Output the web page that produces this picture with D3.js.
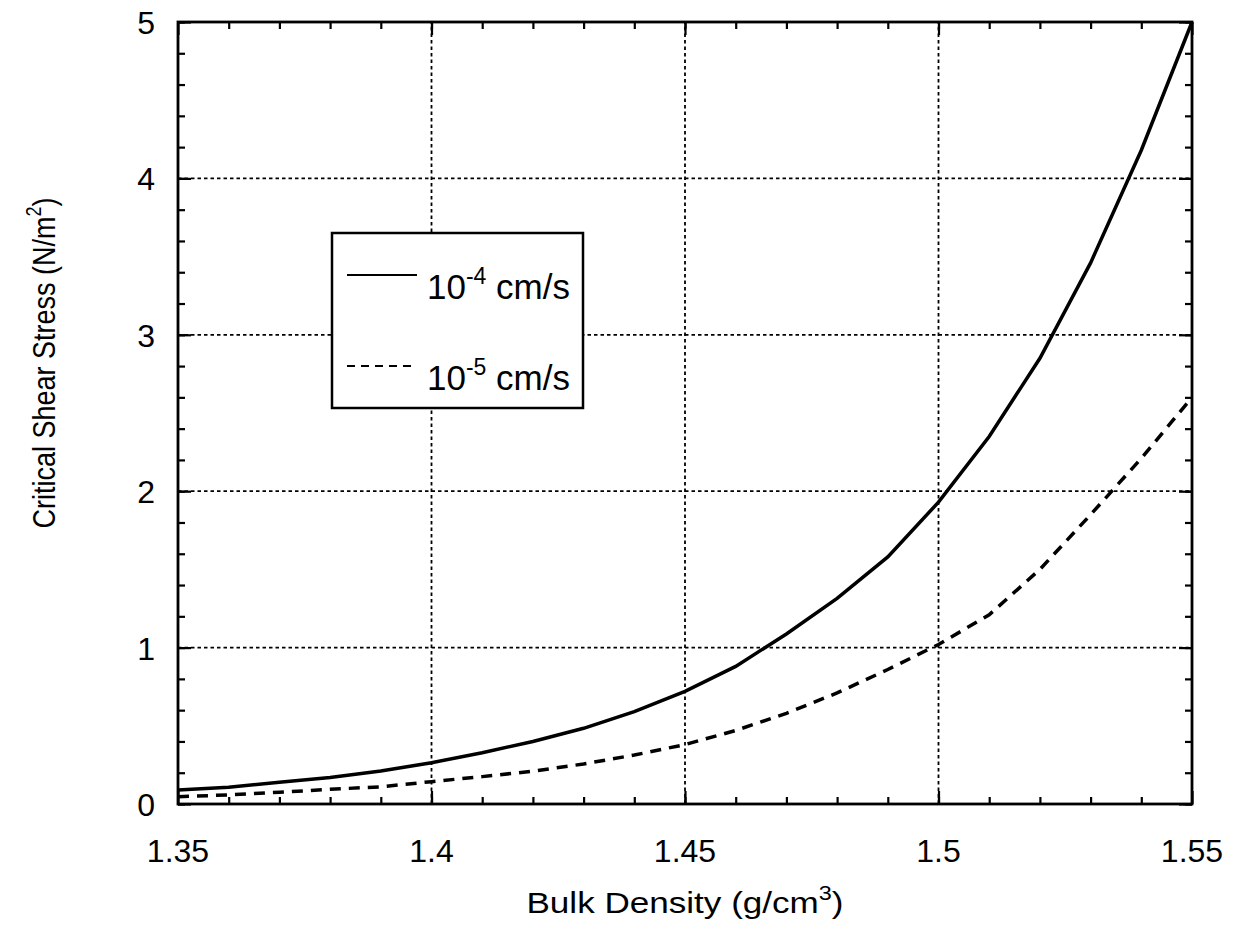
<!DOCTYPE html>
<html>
<head>
<meta charset="utf-8">
<script src="https://cdn.jsdelivr.net/npm/d3@7"></script>
<style>
  body { margin: 0; background: #fff; }
  text { font-family: "Liberation Sans", Arial, sans-serif; fill: #000; }
</style>
</head>
<body>
<div id="plot"></div>
<script>
// bulk density (g/cm^3)
const density = [1.35, 1.36, 1.37, 1.38, 1.39, 1.40, 1.41, 1.42, 1.43, 1.44, 1.45,
                 1.46, 1.47, 1.48, 1.49, 1.50, 1.51, 1.52, 1.53, 1.54, 1.55];
// critical shear stress (N/m^2)
const stress4 = [0.09, 0.107, 0.139, 0.17, 0.211, 0.264, 0.328, 0.40, 0.484, 0.59, 0.72,
                 0.88, 1.087, 1.315, 1.58, 1.93, 2.35, 2.85, 3.46, 4.18, 5.0];
const stress5 = [0.047, 0.058, 0.075, 0.094, 0.11, 0.143, 0.175, 0.21, 0.256, 0.313, 0.38,
                 0.47, 0.58, 0.71, 0.86, 1.02, 1.21, 1.50, 1.85, 2.21, 2.6];
const xTicks = [1.35, 1.4, 1.45, 1.5, 1.55];
const yTicks = [0, 1, 2, 3, 4, 5];

const width = 1235, height = 939;
const margin = {left: 178, right: 43, top: 22, bottom: 135};

let svg = d3.select("#plot").append("svg")
    .attr("width", width)
    .attr("height", height);

let x = d3.scaleLinear().domain([1.35, 1.55]).range([margin.left, width - margin.right]);
let y = d3.scaleLinear().domain([0, 5]).range([height - margin.bottom, margin.top]);

// grid
let grid = svg.append("g")
    .attr("stroke", "#000")
    .attr("stroke-width", 1.8)
    .attr("stroke-dasharray", "3.5,3");
grid.selectAll(".gx").data(xTicks.slice(1, -1)).enter().append("line")
    .attr("x1", d => x(d)).attr("x2", d => x(d))
    .attr("y1", y(0)).attr("y2", y(5));
grid.selectAll(".gy").data(yTicks.slice(1, -1)).enter().append("line")
    .attr("x1", x(1.35)).attr("x2", x(1.55))
    .attr("y1", d => y(d)).attr("y2", d => y(d));

// inward ticks on all sides
const minorX = d3.range(136, 155).map(d => d / 100);
const minorY = d3.range(0, 26).map(d => d / 5);
svg.append("g").call(d3.axisBottom(x).tickValues(minorX).tickSize(-7).tickFormat(""))
    .attr("transform", `translate(0,${y(0)})`);
svg.append("g").call(d3.axisTop(x).tickValues(minorX).tickSize(-7).tickFormat(""))
    .attr("transform", `translate(0,${y(5)})`);
svg.append("g").call(d3.axisLeft(y).tickValues(minorY).tickSize(-7).tickFormat(""))
    .attr("transform", `translate(${x(1.35)},0)`);
svg.append("g").call(d3.axisRight(y).tickValues(minorY).tickSize(-7).tickFormat(""))
    .attr("transform", `translate(${x(1.55)},0)`);
svg.append("g").call(d3.axisBottom(x).tickValues(xTicks).tickSize(-13).tickFormat(""))
    .attr("transform", `translate(0,${y(0)})`);
svg.append("g").call(d3.axisTop(x).tickValues(xTicks).tickSize(-13).tickFormat(""))
    .attr("transform", `translate(0,${y(5)})`);
svg.append("g").call(d3.axisLeft(y).tickValues(yTicks).tickSize(-13).tickFormat(""))
    .attr("transform", `translate(${x(1.35)},0)`);
svg.append("g").call(d3.axisRight(y).tickValues(yTicks).tickSize(-13).tickFormat(""))
    .attr("transform", `translate(${x(1.55)},0)`);
svg.selectAll(".tick line").attr("stroke", "#000").attr("stroke-width", 2.2);
svg.selectAll(".domain").remove();

// tick labels
svg.append("g").selectAll("text").data(xTicks).enter().append("text")
    .attr("x", d => x(d)).attr("y", 862)
    .attr("text-anchor", "middle")
    .attr("font-size", 32)
    .text(d => d);
svg.append("g").selectAll("text").data(yTicks).enter().append("text")
    .attr("x", 155).attr("y", d => y(d) + 12)
    .attr("text-anchor", "end")
    .attr("font-size", 32)
    .text(d => d);

// curves
let line = d3.line().x((d, i) => x(density[i])).y(d => y(d));
svg.append("path").datum(stress4)
    .attr("d", line).attr("fill", "none")
    .attr("stroke", "#000").attr("stroke-width", 3.5);
svg.append("path").datum(stress5)
    .attr("d", line).attr("fill", "none")
    .attr("stroke", "#000").attr("stroke-width", 3.5)
    .attr("stroke-dasharray", "11,8");

// frame
svg.append("rect")
    .attr("x", x(1.35)).attr("y", y(5))
    .attr("width", x(1.55) - x(1.35)).attr("height", y(0) - y(5))
    .attr("fill", "none").attr("stroke", "#000").attr("stroke-width", 2.8);

// legend
let legend = svg.append("g");
legend.append("rect")
    .attr("x", 332).attr("y", 233).attr("width", 251).attr("height", 175)
    .attr("fill", "#fff").attr("stroke", "#000").attr("stroke-width", 2.5);
const legendItems = [
  {exp: "-4", dash: null, ly: 275},
  {exp: "-5", dash: "8,6", ly: 366}
];
legendItems.forEach(item => {
  legend.append("line")
    .attr("x1", 347).attr("x2", 417).attr("y1", item.ly).attr("y2", item.ly)
    .attr("stroke", "#000").attr("stroke-width", 2.2)
    .attr("stroke-dasharray", item.dash);
  let t = legend.append("text")
    .attr("x", 427).attr("y", item.ly + 24)
    .attr("font-size", 35);
  t.append("tspan").text("10");
  t.append("tspan").attr("dy", -15).attr("font-size", 23).text(item.exp);
  t.append("tspan").attr("dy", 15).text(" cm/s");
});

// axis titles (reference lettering is a bit wider than tall)
let xt = svg.append("text")
    .attr("transform", "translate(685,913) scale(1.17,1)")
    .attr("text-anchor", "middle")
    .attr("font-size", 30);
xt.append("tspan").text("Bulk Density (g/cm");
xt.append("tspan").attr("dy", -13).attr("font-size", 20).text("3");
xt.append("tspan").attr("dy", 13).text(")");

let yt = svg.append("text")
    .attr("transform", "translate(55,363) rotate(-90) scale(1,1.18)")
    .attr("text-anchor", "middle")
    .attr("font-size", 27);
yt.append("tspan").text("Critical Shear Stress (N/m");
yt.append("tspan").attr("dy", -12).attr("font-size", 18).text("2");
yt.append("tspan").attr("dy", 12).text(")");
</script>
</body>
</html>
